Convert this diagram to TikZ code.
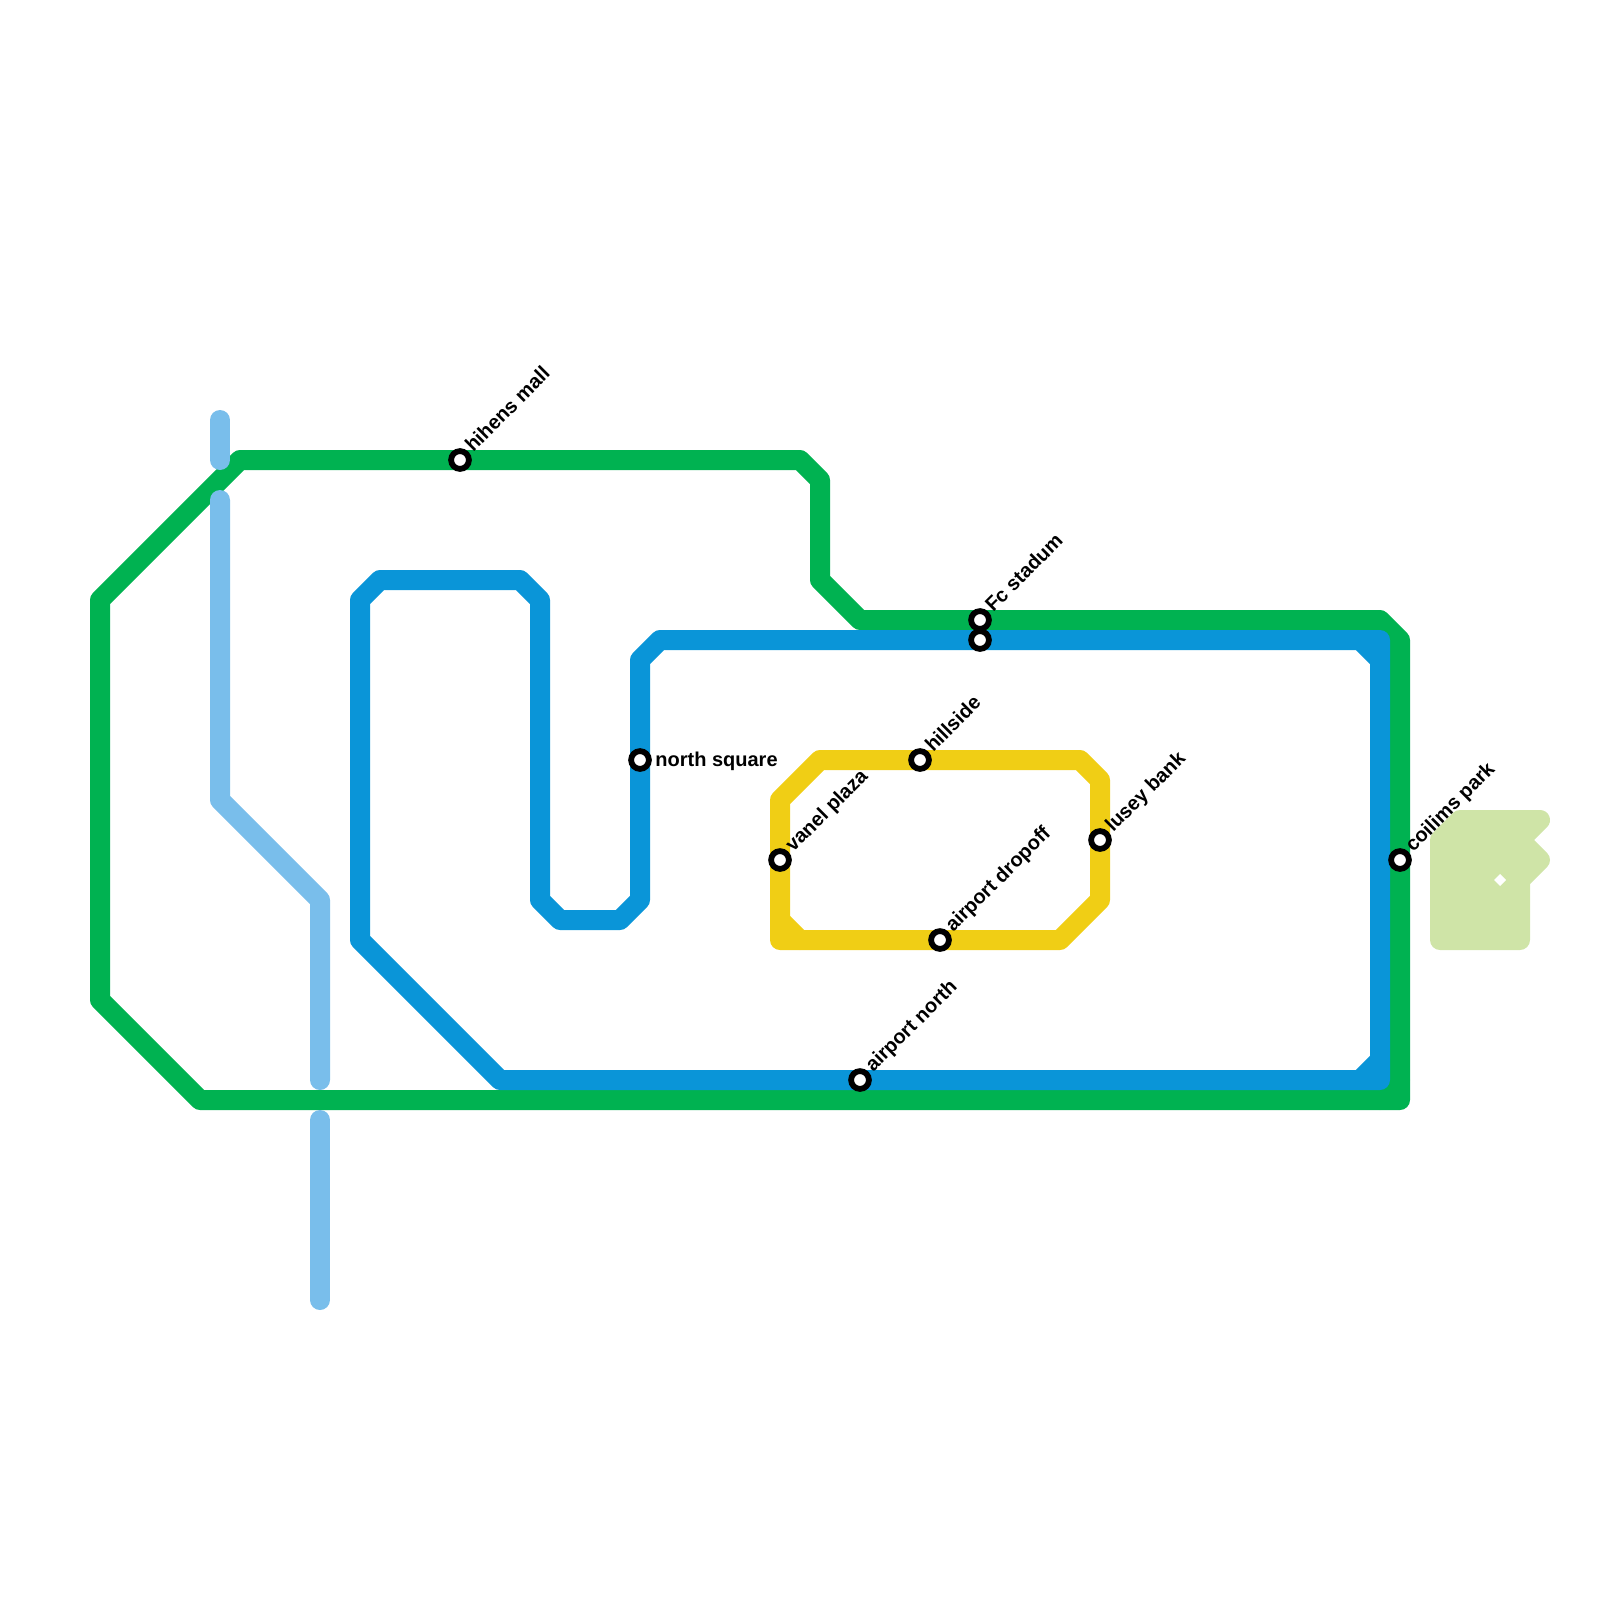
\documentclass[tikz,border=0pt]{standalone}
\usepackage{fontspec}
\setmainfont{Liberation Sans}
\tikzset{
  route/.style={line width=10pt,line cap=round,line join=round},
  greenline/.style={route,draw=lgreen},
  blueline/.style={route,draw=lblue},
  yellowline/.style={route,draw=lyellow},
  skyline/.style={route,draw=lsky},
  parkshape/.style={route,draw=lpark,fill=lpark},
  station/.style={circle,draw=black,fill=white,line width=2.9pt,minimum size=8.9pt,inner sep=0pt},
  lab/.style={font=\bfseries\fontsize{10}{12}\selectfont,inner sep=0pt,anchor=base west,text=black},
  diag/.style={lab,rotate=45}
}
\definecolor{lgreen}{HTML}{00B251}
\definecolor{lblue}{HTML}{0A95D8}
\definecolor{lyellow}{HTML}{F0CE15}
\definecolor{lsky}{HTML}{79BEEB}
\definecolor{lpark}{HTML}{CFE4A7}
\begin{document}
\begin{tikzpicture}[x=0.5pt,y=-0.5pt]
\useasboundingbox (0,0) rectangle (1600,1600);
% station positions
\coordinate (hihens) at (460,460);
\coordinate (fcg) at (980,620);
\coordinate (fcb) at (980,640);
\coordinate (north) at (640,760);
\coordinate (hill) at (920,760);
\coordinate (vanel) at (780,860);
\coordinate (lusey) at (1100,840);
\coordinate (dropoff) at (940,940);
\coordinate (airn) at (860,1080);
\coordinate (coilims) at (1400,860);
% park
\draw[parkshape] (1440,840) -- (1460,820) -- (1540,820) -- (1520,840) -- (1540,860) -- (1520,880) -- (1520,940) -- (1440,940) -- cycle;
\fill[white] (1500,874) -- (1506,880) -- (1500,886) -- (1494,880) -- cycle;
% yellow
\draw[yellowline] (780,800) -- (820,760) -- (hill) -- (1080,760) -- (1100,780) -- (lusey) -- (1100,900) -- (1060,940) -- (dropoff) -- (780,940) -- (vanel) -- cycle;
\draw[yellowline] (780,920) -- (800,940);
% green
\draw[greenline] (100,600) -- (240,460) -- (hihens) -- (800,460) -- (820,480) -- (820,580) -- (860,620) -- (fcg) -- (1380,620) -- (1400,640) -- (coilims) -- (1400,1100) -- (200,1100) -- (100,1000) -- cycle;
\draw[greenline] (1380,1100) -- (1400,1080);
% blue
\draw[blueline] (360,600) -- (380,580) -- (520,580) -- (540,600) -- (540,900) -- (560,920) -- (620,920) -- (640,900) -- (north) -- (640,660) -- (660,640) -- (fcb) -- (1380,640) -- (1380,1080) -- (airn) -- (500,1080) -- (360,940) -- cycle;
\draw[blueline] (1360,640) -- (1380,660);
\draw[blueline] (1380,1060) -- (1360,1080);
% light blue
\draw[skyline] (220,420) -- (220,460);
\draw[skyline] (220,500) -- (220,800) -- (320,900) -- (320,1080);
\draw[skyline] (320,1120) -- (320,1300);
% stations
\node[station] (s1) at (hihens) {};
\node[station] (s2) at (fcg) {};
\node[station] (s3) at (fcb) {};
\node[station] (s4) at (north) {};
\node[station] (s5) at (hill) {};
\node[station] (s6) at (vanel) {};
\node[station] (s7) at (lusey) {};
\node[station] (s8) at (dropoff) {};
\node[station] (s9) at (airn) {};
\node[station] (s10) at (coilims) {};
% labels
\node[diag] (l1) at ([shift={(13,-7)}]hihens) {hihens mall};
\node[diag] (l2) at ([shift={(13,-7)}]fcg) {Fc stadum};
\node[lab] (l4) at ([shift={(15,6)}]north) {north square};
\node[diag] (l5) at ([shift={(13,-7)}]hill) {hillside};
\node[diag] (l6) at ([shift={(13,-7)}]vanel) {vanel plaza};
\node[diag] (l7) at ([shift={(13,-7)}]lusey) {lusey bank};
\node[diag] (l8) at ([shift={(13,-7)}]dropoff) {airport dropoff};
\node[diag] (l9) at ([shift={(13,-7)}]airn) {airport north};
\node[diag] (l10) at ([shift={(13,-7)}]coilims) {coilims park};
\end{tikzpicture}
\end{document}
